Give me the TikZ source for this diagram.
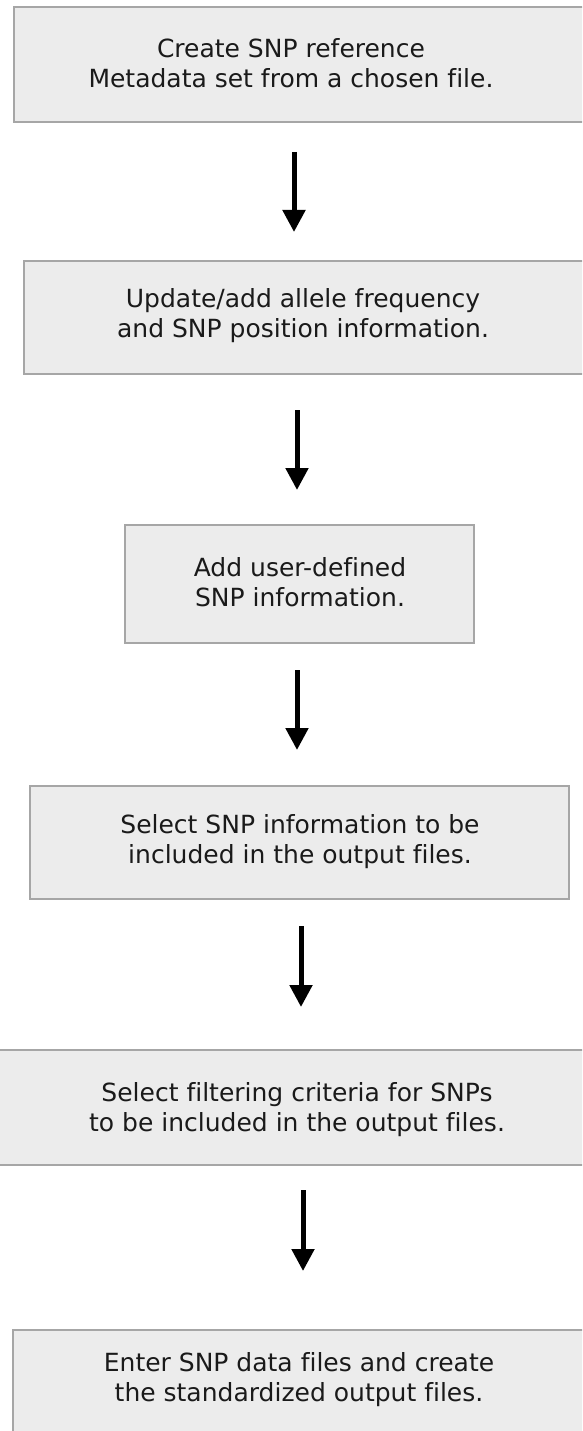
\documentclass[tikz,border=0pt]{standalone}
\usepackage{fontspec}
\setmainfont{DejaVu Sans}[Ligatures=NoCommon]
\usetikzlibrary{arrows.meta}
\definecolor{boxfill}{HTML}{ECECEC}
\definecolor{boxline}{HTML}{A6A6A6}
\definecolor{txtcol}{HTML}{1A1A1A}
\tikzset{
  stepbox/.style={draw=boxline, fill=boxfill, line width=1.6pt},
  txt/.style={align=center, text=txtcol, inner sep=0pt,
    font=\fontsize{25pt}{30pt}\selectfont},
  arr/.style={line width=5pt, -{Triangle[width=22pt,length=22pt]}}
}
\begin{document}
\begin{tikzpicture}[x=1pt,y=-1pt]
\useasboundingbox (0,0) rectangle (582,1431);
\clip (0,0) rectangle (582,1431);
\fill[white] (0,0) rectangle (582,1431);
% boxes
\draw[stepbox] (14,7) rectangle (600,122);
\node[txt] (t1) at (291,63) {Create SNP reference\\Metadata set from a chosen file.};
\draw[stepbox] (24,261) rectangle (600,374);
\node[txt] (t2) at (303,316) {Update/add allele frequency\\and SNP position information.};
\draw[stepbox] (125,525) rectangle (474,643);
\node[txt] (t3) at (300,582) {Add user-defined\\SNP information.};
\draw[stepbox] (30,786) rectangle (569,899);
\node[txt] (t4) at (300,842) {Select SNP information to be\\included in the output files.};
\draw[stepbox] (-10,1050) rectangle (600,1165);
\node[txt] (t5) at (297,1110) {Select filtering criteria for SNPs\\to be included in the output files.};
\draw[stepbox] (13,1330) rectangle (600,1460);
\node[txt] (t6) at (299,1380) {Enter SNP data files and create\\the standardized output files.};
% arrows
\coordinate (a1s) at (294,152); \coordinate (a1e) at (294,232);
\coordinate (a2s) at (297,410); \coordinate (a2e) at (297,490);
\coordinate (a3s) at (297,670); \coordinate (a3e) at (297,750);
\coordinate (a4s) at (301,926); \coordinate (a4e) at (301,1007);
\coordinate (a5s) at (303,1190); \coordinate (a5e) at (303,1271);
\draw[arr] (a1s) -- (a1e);
\draw[arr] (a2s) -- (a2e);
\draw[arr] (a3s) -- (a3e);
\draw[arr] (a4s) -- (a4e);
\draw[arr] (a5s) -- (a5e);
\end{tikzpicture}
\end{document}
